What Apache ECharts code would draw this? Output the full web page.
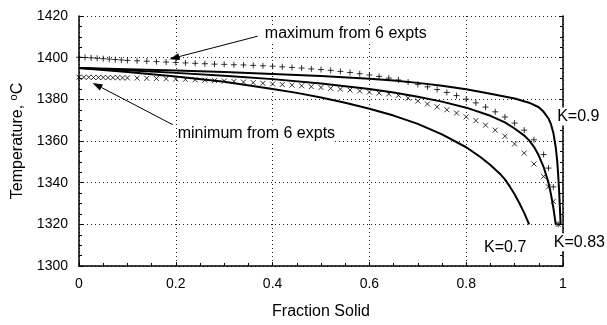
<!DOCTYPE html>
<html>
<head>
<meta charset="utf-8">
<script src="https://cdn.jsdelivr.net/npm/echarts@6/dist/echarts.min.js"></script>
<style>
html,body{margin:0;padding:0;background:#fff}
#chart{width:607px;height:325px}
</style>
</head>
<body>
<div id="chart"></div>
<script>
// Maximum cooling-curve temperatures from 6 experiments
const fracMax = [0, 0.0125, 0.025, 0.0375, 0.05, 0.0625, 0.075, 0.0875, 0.1,
  0.12, 0.14, 0.16, 0.18, 0.20, 0.22, 0.24, 0.26, 0.28, 0.30, 0.32, 0.34, 0.36, 0.38,
  0.40, 0.42, 0.44, 0.46, 0.48, 0.50, 0.52, 0.54, 0.56, 0.58, 0.60, 0.62, 0.64, 0.66,
  0.68, 0.70, 0.72, 0.74, 0.76, 0.78, 0.80, 0.82, 0.84, 0.86, 0.88, 0.90, 0.92, 0.94,
  0.96, 0.97, 0.98, 0.99];
const tempMax = [1400.2, 1400.1, 1399.9, 1399.7, 1399.5, 1399.3, 1399.1, 1398.9, 1398.7,
  1398.5, 1398.3, 1398.1, 1397.9, 1397.7, 1397.5, 1397.3, 1397.1, 1396.9, 1396.8, 1396.6, 1396.5, 1396.3, 1396.1,
  1395.9, 1395.6, 1395.3, 1395.0, 1394.6, 1394.3, 1393.9, 1393.4, 1392.9, 1392.3, 1391.7, 1391.0, 1390.2, 1389.3,
  1388.3, 1387.2, 1386.0, 1384.7, 1383.3, 1381.8, 1380.1, 1378.3, 1376.3, 1374.0, 1371.5, 1368.6, 1365.2, 1360.6,
  1353.5, 1347.0, 1338.0, 1320.0];

// Minimum cooling-curve temperatures from 6 experiments
const fracMin = [0, 0.01, 0.02, 0.03, 0.04, 0.05, 0.06, 0.07, 0.08, 0.09, 0.10,
  0.12, 0.14, 0.16, 0.18, 0.20, 0.22, 0.24, 0.26, 0.28, 0.30, 0.32, 0.34, 0.36, 0.38,
  0.40, 0.42, 0.44, 0.46, 0.48, 0.50, 0.52, 0.54, 0.56, 0.58, 0.60, 0.62, 0.64, 0.66,
  0.68, 0.70, 0.72, 0.74, 0.76, 0.78, 0.80, 0.82, 0.84, 0.86, 0.88, 0.90, 0.92, 0.94,
  0.96, 0.97, 0.98, 0.99];
const tempMin = [1390.6, 1390.6, 1390.6, 1390.5, 1390.5, 1390.5, 1390.4, 1390.4, 1390.4, 1390.3, 1390.3,
  1390.2, 1390.1, 1390.0, 1389.9, 1389.8, 1389.6, 1389.4, 1389.2, 1389.0, 1388.8, 1388.6, 1388.3, 1388.0, 1387.7,
  1387.4, 1387.1, 1386.8, 1386.5, 1386.1, 1385.7, 1385.3, 1384.9, 1384.5, 1384.0, 1383.5, 1383.0, 1382.6, 1381.9,
  1380.6, 1379.2, 1377.8, 1376.4, 1375.0, 1373.4, 1371.6, 1369.8, 1367.6, 1365.2, 1362.3, 1358.6, 1354.2, 1349.0,
  1343.0, 1338.0, 1331.0, 1320.0];

// Scheil curves for three partition coefficients
const fracK090 = [0, 0.1, 0.2, 0.3, 0.4, 0.5, 0.6, 0.65, 0.7, 0.75, 0.8, 0.85, 0.9, 0.93, 0.95, 0.96, 0.97, 0.975, 0.98, 0.985, 0.988, 0.99, 0.992, 0.994, 0.995];
const tempK090 = [1395, 1394.4, 1393.8, 1393.1, 1392.2, 1391.2, 1389.9, 1389.0, 1387.9, 1386.5, 1384.8, 1382.7, 1380.4, 1378.4, 1376.2, 1374.0, 1370.8, 1368.2, 1364.0, 1357.0, 1350.5, 1344.0, 1336.0, 1326.0, 1320.0];

const fracK083 = [0, 0.1, 0.2, 0.3, 0.4, 0.5, 0.6, 0.65, 0.7, 0.75, 0.8, 0.85, 0.88, 0.9, 0.92, 0.93, 0.94, 0.95, 0.96, 0.97, 0.975, 0.98, 0.985];
const tempK083 = [1395, 1394.0, 1392.7, 1391.3, 1389.7, 1387.6, 1385.0, 1383.3, 1381.2, 1378.9, 1376.0, 1372.1, 1368.9, 1366.0, 1362.6, 1360.3, 1357.2, 1353.0, 1347.5, 1340.0, 1334.6, 1328.0, 1320.0];

const fracK070 = [0, 0.1, 0.2, 0.3, 0.4, 0.45, 0.5, 0.55, 0.6, 0.65, 0.7, 0.75, 0.8, 0.83, 0.85, 0.87, 0.88, 0.89, 0.9, 0.91, 0.92, 0.93];
const tempK070 = [1395, 1393.1, 1391.0, 1388.4, 1385.0, 1383.1, 1380.9, 1378.4, 1375.5, 1372.2, 1368.2, 1363.2, 1357.0, 1352.2, 1348.5, 1344.2, 1341.6, 1338.2, 1334.4, 1330.1, 1325.4, 1320.0];

// Axis ranges and tick spacing
const xTicks = { min: 0, max: 1, step: 0.2 };
const yTicks = { min: 1300, max: 1420, step: 20 };

const pairs = (xs, ys) => xs.map((x, i) => [x, ys[i]]);

const FONT = '"Liberation Sans", Arial, Helvetica, sans-serif';
const PLUS = 'path://M5,0L5,10M0,5L10,5';
const CROSS = 'path://M0,0L10,10M10,0L0,10';

const chart = echarts.init(document.getElementById('chart'), null, { renderer: 'canvas' });

const tickStyle = { show: true, inside: true, length: 4, lineStyle: { color: '#000', width: 1 } };
const minorStyle = { show: true, splitNumber: 4, length: 3, lineStyle: { color: '#000', width: 1 } };
const gridDots = { show: true, lineStyle: { color: '#222', type: [1, 3], width: 1 } };

const option = {
  backgroundColor: '#fff',
  animation: false,
  grid: { left: 79, right: 44, top: 16, bottom: 55 },
  xAxis: {
    type: 'value', min: xTicks.min, max: xTicks.max, interval: xTicks.step,
    name: 'Fraction Solid', nameLocation: 'middle', nameGap: 38,
    nameTextStyle: { fontFamily: FONT, fontSize: 16, color: '#000' },
    axisLine: { show: true, onZero: false, lineStyle: { color: '#000', width: 1.5 } },
    axisTick: tickStyle,
    minorTick: minorStyle,
    axisLabel: { fontFamily: FONT, fontSize: 14, color: '#000', margin: 11, formatter: v => String(v) },
    splitLine: gridDots
  },
  yAxis: [{
    type: 'value', min: yTicks.min, max: yTicks.max, interval: yTicks.step,
    name: 'Temperature, {sup|o}C', nameLocation: 'middle', nameGap: 52,
    nameTextStyle: {
      fontFamily: FONT, fontSize: 16, color: '#000',
      rich: { sup: { fontFamily: FONT, fontSize: 11, verticalAlign: 'top', padding: [0, 0, 8, 0] } }
    },
    axisLine: { show: true, onZero: false, lineStyle: { color: '#000', width: 1.5 } },
    axisTick: tickStyle,
    minorTick: minorStyle,
    axisLabel: { fontFamily: FONT, fontSize: 14, color: '#000', margin: 11, formatter: v => String(v) },
    splitLine: gridDots
  }, {
    type: 'value', position: 'right', min: yTicks.min, max: yTicks.max, interval: yTicks.step,
    axisLine: { show: true, onZero: false, lineStyle: { color: '#000', width: 1.5 } },
    axisTick: tickStyle,
    minorTick: minorStyle,
    axisLabel: { show: false },
    splitLine: { show: false }
  }],
  series: [
    {
      name: 'maximum', type: 'scatter', data: pairs(fracMax, tempMax),
      symbol: PLUS, symbolSize: 6,
      itemStyle: { color: 'transparent', borderColor: '#000', borderWidth: 1 }
    },
    {
      name: 'minimum', type: 'scatter', data: pairs(fracMin, tempMin),
      symbol: CROSS, symbolSize: 5,
      itemStyle: { color: 'transparent', borderColor: '#000', borderWidth: 1 }
    },
    {
      name: 'K=0.9', type: 'line', data: pairs(fracK090, tempK090),
      showSymbol: false, smooth: false,
      lineStyle: { color: '#000', width: 2 }
    },
    {
      name: 'K=0.83', type: 'line', data: pairs(fracK083, tempK083),
      showSymbol: false, smooth: false,
      lineStyle: { color: '#000', width: 2 }
    },
    {
      name: 'K=0.7', type: 'line', data: pairs(fracK070, tempK070),
      showSymbol: false, smooth: false,
      lineStyle: { color: '#000', width: 2 }
    }
  ]
};
chart.setOption(option);

// Annotations, anchored in data space (fraction solid, temperature)
const notes = [
  { text: 'maximum from 6 expts', at: [0.384, 1411.4] },
  { text: 'minimum from 6 expts', at: [0.204, 1363.6] },
  { text: 'K=0.9', at: [0.988, 1371.8] },
  { text: 'K=0.83', at: [0.981, 1311.4] },
  { text: 'K=0.7', at: [0.837, 1309.0] }
];
const arrows = [
  { from: [0.369, 1410.3], to: [0.187, 1399.3] },
  { from: [0.194, 1367.8], to: [0.028, 1387.9] }
];

const px = p => chart.convertToPixel({ gridIndex: 0 }, p);
const graphics = [];
notes.forEach(n => {
  const [x, y] = px(n.at);
  graphics.push({
    type: 'text', x, y, z: 10,
    style: {
      text: n.text, fontFamily: FONT, fontSize: 16, fill: '#000',
      textVerticalAlign: 'middle', backgroundColor: '#fff', padding: [1, 0, 1, 0]
    }
  });
});
arrows.forEach(a => {
  const [x1, y1] = px(a.from);
  const [x2, y2] = px(a.to);
  const ang = Math.atan2(y2 - y1, x2 - x1);
  const L = 10, W = 3.5;
  const bx = x2 - L * Math.cos(ang), by = y2 - L * Math.sin(ang);
  const nx = -Math.sin(ang), ny = Math.cos(ang);
  graphics.push({
    type: 'line', z: 10, shape: { x1, y1, x2: bx, y2: by },
    style: { stroke: '#000', lineWidth: 1 }
  });
  graphics.push({
    type: 'polygon', z: 10,
    shape: { points: [[x2, y2], [bx + nx * W, by + ny * W], [bx - nx * W, by - ny * W]] },
    style: { fill: '#000' }
  });
});
chart.setOption({ graphic: graphics });
</script>
</body>
</html>
